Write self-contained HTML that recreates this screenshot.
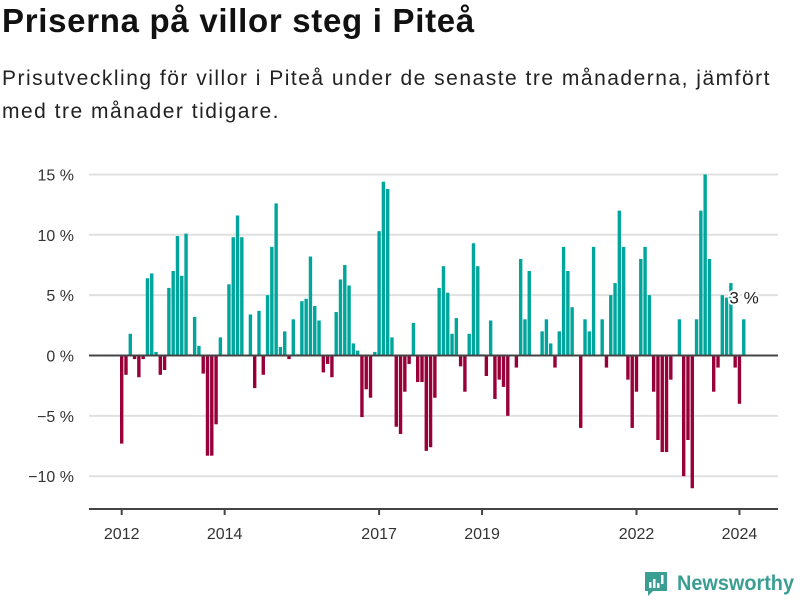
<!DOCTYPE html>
<html><head><meta charset="utf-8"><style>
body{margin:0;background:#fff;width:800px;height:600px;overflow:hidden;font-family:"Liberation Sans",sans-serif}
#title{position:absolute;left:2px;top:2px;font-size:33px;font-weight:bold;color:#111;margin:0;letter-spacing:0.7px;white-space:nowrap}
#sub{position:absolute;left:2px;top:62px;font-size:21px;line-height:33px;color:#222;width:798px;letter-spacing:1.5px;white-space:nowrap}
svg{position:absolute;left:0;top:0}
</style></head><body>
<h1 id="title">Priserna på villor steg i Piteå</h1>
<div id="sub">Prisutveckling för villor i Piteå under de senaste tre månaderna, jämfört<br>med tre månader tidigare.</div>
<svg id="chart" width="800" height="600"></svg>
<script>
const startYear = 2012;
const values = [-7.3,-1.6,1.8,-0.3,-1.8,-0.3,6.4,6.8,0.3,-1.6,-1.2,5.6,7.0,9.9,6.6,10.1,0.1,3.2,0.8,-1.5,-8.3,-8.3,-5.7,1.5,0,5.9,9.8,11.6,9.8,0,3.4,-2.7,3.7,-1.6,5.0,9.0,12.6,0.7,2.0,-0.3,3.0,0.1,4.5,4.7,8.2,4.1,2.9,-1.4,-0.7,-1.8,3.6,6.3,7.5,5.8,1.0,0.4,-5.1,-2.8,-3.5,0.3,10.3,14.4,13.8,1.5,-5.9,-6.5,-3.0,-0.7,2.7,-2.2,-2.2,-7.9,-7.6,-3.5,5.6,7.4,5.2,1.8,3.1,-0.9,-3.0,1.8,9.3,7.4,0.1,-1.7,2.9,-3.6,-2.0,-2.6,-5.0,0,-1.0,8.0,3.0,7.0,0,0,2.0,3.0,1.0,-1.0,2.0,9.0,7.0,4.0,0,-6.0,3.0,2.0,9.0,0,3.0,-1.0,5.0,6.0,12.0,9.0,-2.0,-6.0,-3.0,8.0,9.0,5.0,-3.0,-7.0,-8.0,-8.0,-2.0,0,3.0,-10.0,-7.0,-11.0,3.0,12.0,15.0,8.0,-3.0,-1.0,5.0,4.8,6.0,-1.0,-4.0,3.0];
const yTicks = [15,10,5,0,-5,-10];
const yTickLabels = ["15 %","10 %","5 %","0 %","−5 %","−10 %"];
const xTickYears = [2012,2014,2017,2019,2022,2024];
const lastLabel = "3 %";

const NS="http://www.w3.org/2000/svg";
const svg=document.getElementById('chart');
const y=v=>355.5-v*12.07;
const x=m=>121+m*4.29;
function el(t,a,p){const e=document.createElementNS(NS,t);for(const k in a)e.setAttribute(k,a[k]);(p||svg).appendChild(e);return e;}
yTicks.forEach((t,i)=>{
  const g=el('line',{x1:89,x2:778,y1:y(t),y2:y(t),stroke:'#e0e0e0','stroke-width':2});
  
  
  const tx=el('text',{x:74,y:y(t)+6,'text-anchor':'end','font-size':16,fill:'#333'});
  tx.textContent=yTickLabels[i];
  
  
});
values.forEach((v,m)=>{
  if(v===0)return;
  const r=el('rect',{x:x(m)-1,y:v>0?y(v):y(0),width:3.4,height:Math.abs(y(v)-y(0)),fill:v>0?'#00a69b':'#970038'});
  
  
});
const z=el('line',{x1:89,x2:778,y1:y(0),y2:y(0),stroke:'#444','stroke-width':2});


const ax=el('line',{x1:89,x2:778,y1:509,y2:509,stroke:'#444','stroke-width':2});


xTickYears.forEach(yr=>{
  const px=x((yr-startYear)*12)+0.7;
  const tk=el('line',{x1:px,x2:px,y1:509,y2:515,stroke:'#444','stroke-width':2});
  
  
  const t=el('text',{x:px,y:539,'text-anchor':'middle','font-size':16,fill:'#333'});
  t.textContent=yr;
  
  
});
const lm=values.length-1;
const lt=el('text',{x:x(lm)+1,y:y(values[lm])-16,'text-anchor':'middle','font-size':17,fill:'#222',stroke:'#fff','stroke-width':4,'paint-order':'stroke'});
lt.textContent=lastLabel;


const lg=el('g',{});


el('path',{d:'M645 572 h22 v19 h-14 l-5 5 v-5 h-3 z',fill:'#3a9e93'},lg);
el('rect',{x:649,y:582,width:2.5,height:6,fill:'#fff'},lg);
el('rect',{x:653,y:579,width:2.5,height:9,fill:'#fff'},lg);
el('rect',{x:657,y:583,width:2.5,height:5,fill:'#fff'},lg);
el('rect',{x:661,y:575,width:2.5,height:9,fill:'#fff'},lg);
const lt2=el('text',{x:677,y:590,'font-size':21,'font-weight':'bold',fill:'#3a9e93',textLength:117,lengthAdjust:'spacingAndGlyphs'},lg);
lt2.textContent='Newsworthy';
</script>
</body></html>
